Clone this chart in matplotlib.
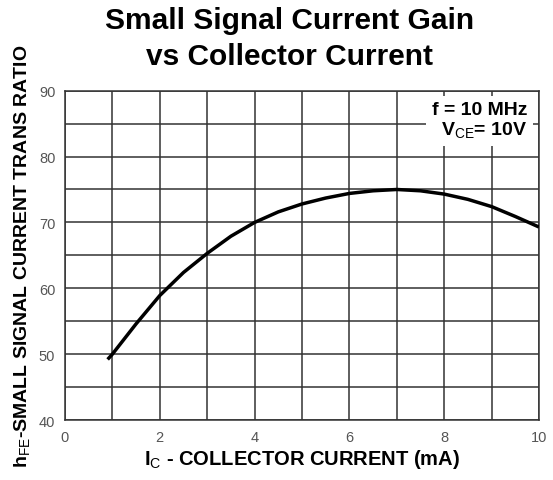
import matplotlib
matplotlib.use("Agg")
import matplotlib.pyplot as plt
import numpy as np

plt.rcParams['font.family'] = ['Liberation Sans', 'DejaVu Sans']
plt.rcParams['mathtext.fontset'] = 'custom'
plt.rcParams['mathtext.rm'] = 'Liberation Sans'
plt.rcParams['mathtext.bf'] = 'Liberation Sans:bold'

# Data
ic_ma = [0.9, 1.0, 1.5, 2.0, 2.5, 3.0, 3.5, 4.0, 4.5, 5.0, 5.5, 6.0, 6.5, 7.0, 7.5, 8.0, 8.5, 9.0, 9.5, 10.0]
hfe = [49.2, 50.0, 54.6, 58.9, 62.4, 65.3, 67.9, 70.0, 71.6, 72.8, 73.7, 74.4, 74.8, 75.0, 74.8, 74.3, 73.5, 72.4, 70.9, 69.3]

x_ticks = [0, 2, 4, 6, 8, 10]
y_ticks = [40, 50, 60, 70, 80, 90]

fig = plt.figure(figsize=(5.53, 4.81), dpi=100)
ax = fig.add_axes([0.1175, 0.1247, 0.8572, 0.6847])

ax.set_xlim(0, 10)
ax.set_ylim(40, 90)
ax.set_xticks(x_ticks)
ax.set_yticks(y_ticks)
ax.set_xticks(np.arange(0, 11, 1), minor=True)
ax.set_yticks(np.arange(40, 91, 5), minor=True)
ax.grid(True, which='both', color='#333333', linewidth=1.1)
ax.tick_params(which='both', length=0, labelsize=10.5, labelcolor='#555555', pad=7)
for s in ax.spines.values():
    s.set_color('#333333')
    s.set_linewidth(1.1)

ax.plot(ic_ma, hfe, color='black', linewidth=2.5, solid_capstyle='butt', zorder=3)

ax.text(0.975, 0.97, "f = 10 MHz\nV$_{\\rm CE}$= 10V", transform=ax.transAxes,
        ha='right', va='top', fontsize=14, fontweight='bold', linespacing=1.15,
        bbox=dict(facecolor='white', edgecolor='none', pad=4), zorder=4)

ax.set_xlabel("I$_{\\rm C}$ - COLLECTOR CURRENT (mA)", fontsize=14.5, fontweight='bold', labelpad=2)
ax.set_ylabel("h$_{\\rm FE}$-SMALL SIGNAL CURRENT TRANS RATIO", fontsize=14, fontweight='bold', labelpad=4)

fig.suptitle("Small Signal Current Gain\nvs Collector Current", fontsize=21.5, fontweight='bold',
             x=0.523, y=0.985, linespacing=1.35)

fig.savefig("out.png", dpi=100)
